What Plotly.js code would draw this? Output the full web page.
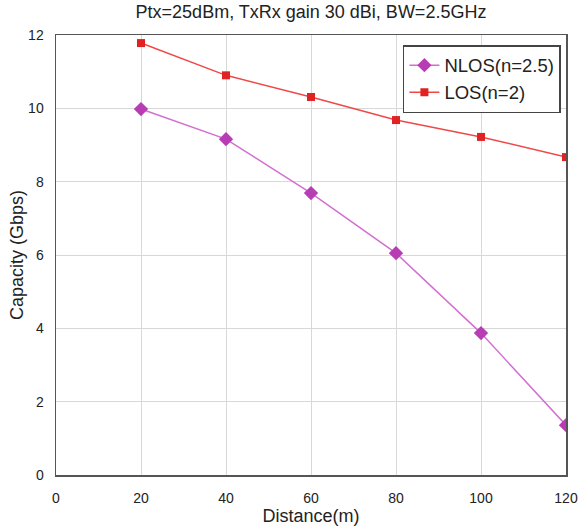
<!DOCTYPE html>
<html><head><meta charset="utf-8">
<script src="https://cdn.plot.ly/plotly-3.0.1.min.js"></script>
<style>body{margin:0;background:#fff}#c{width:580px;height:532px}</style>
</head><body><div id="c"></div>
<script>
const distance = [20, 40, 60, 80, 100, 120];
const nlos = [9.98, 9.16, 7.69, 6.05, 3.87, 1.36];
const los = [11.78, 10.9, 10.31, 9.68, 9.22, 8.67];
const xTicks = [0, 20, 40, 60, 80, 100, 120];
const yTicks = [0, 2, 4, 6, 8, 10, 12];

const font = 'Liberation Sans, Arial, sans-serif';
const traces = [
  {x: distance, y: nlos, name: 'NLOS(n=2.5)', mode: 'lines+markers',
   line: {color: '#d36fd0', width: 1.5},
   marker: {symbol: 'diamond', size: 11, color: '#b83db5'}},
  {x: distance, y: los, name: 'LOS(n=2)', mode: 'lines+markers',
   line: {color: '#f04848', width: 1.5},
   marker: {symbol: 'square', size: 8, color: '#e02222'}}
];
const layout = {
  width: 580, height: 532,
  margin: {l: 56, r: 14, t: 35, b: 57},
  paper_bgcolor: '#fff', plot_bgcolor: '#fff',
  font: {family: font, color: '#222'},
  title: {text: 'Ptx=25dBm, TxRx gain 30 dBi, BW=2.5GHz', font: {size: 18, color: '#222'}, xref: 'paper', x: 0.5, xanchor: 'center', yref: 'container', y: 0.99, yanchor: 'top'},
  xaxis: {range: [0, 120], tickvals: xTicks, ticktext: xTicks.map(String), showgrid: true, gridcolor: '#d8d8d8', gridwidth: 1,
          zeroline: false, showline: true, linecolor: '#555', linewidth: 1.5, mirror: true, ticks: '', ticklabelstandoff: 10,
          tickfont: {size: 14, color: '#222'}, automargin: false,
          title: {text: 'Distance(m)', font: {size: 18, color: '#222'}, standoff: 2}},
  yaxis: {range: [0, 12], tickvals: yTicks, ticktext: yTicks.map(String), showgrid: true, gridcolor: '#d8d8d8', gridwidth: 1,
          zeroline: false, showline: true, linecolor: '#555', linewidth: 1.5, mirror: true, ticks: '', ticklabelstandoff: 8,
          tickfont: {size: 14, color: '#222'}, automargin: false,
          title: {text: 'Capacity (Gbps)', font: {size: 18, color: '#222'}, standoff: 0}},
  legend: {x: 0.99, xanchor: 'right', y: 0.977, yanchor: 'top', bgcolor: '#fff', bordercolor: '#444', borderwidth: 1.5,
           font: {size: 18.5, color: '#222'}, tracegroupgap: 0},
  showlegend: true
};
Plotly.newPlot('c', traces, layout, {displayModeBar: false, staticPlot: true});
</script></body></html>
